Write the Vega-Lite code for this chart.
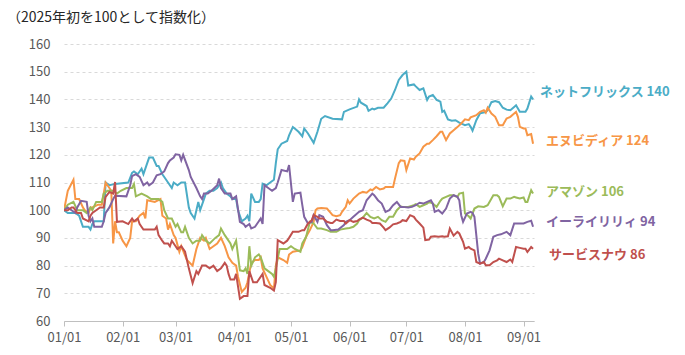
{
"$schema": "https://vega.github.io/schema/vega-lite/v6.json",
"width": 470, "height": 277,
"autosize": "none",
"padding": {"left": 64, "top": 44, "right": 151, "bottom": 34},
"background": "white",
"config": {"view": {"stroke": null}, "font": "Noto Sans CJK JP"},
"title": {"text": "（2025年初を100として指数化）", "anchor": "start", "frame": "group", "dx": -57, "offset": 13, "fontSize": 14, "fontWeight": "normal", "color": "#262626", "font": "Noto Sans CJK JP"},
"datasets": {
"series": [
{"s":"NFLX","d":"2025-01-01","v":100},{"s":"NFLX","d":"2025-01-03","v":99},{"s":"NFLX","d":"2025-01-07","v":99},{"s":"NFLX","d":"2025-01-09","v":98},{"s":"NFLX","d":"2025-01-11","v":94},{"s":"NFLX","d":"2025-01-14","v":94},{"s":"NFLX","d":"2025-01-15","v":93},{"s":"NFLX","d":"2025-01-16","v":95},{"s":"NFLX","d":"2025-01-17","v":96},{"s":"NFLX","d":"2025-01-22","v":96},{"s":"NFLX","d":"2025-01-23","v":110},{"s":"NFLX","d":"2025-01-25","v":109},{"s":"NFLX","d":"2025-01-28","v":109.5},{"s":"NFLX","d":"2025-02-04","v":110},{"s":"NFLX","d":"2025-02-06","v":113.5},{"s":"NFLX","d":"2025-02-07","v":114},{"s":"NFLX","d":"2025-02-09","v":113},{"s":"NFLX","d":"2025-02-11","v":115},{"s":"NFLX","d":"2025-02-12","v":113},{"s":"NFLX","d":"2025-02-14","v":117},{"s":"NFLX","d":"2025-02-15","v":119},{"s":"NFLX","d":"2025-02-17","v":119},{"s":"NFLX","d":"2025-02-19","v":116},{"s":"NFLX","d":"2025-02-20","v":116},{"s":"NFLX","d":"2025-02-22","v":113},{"s":"NFLX","d":"2025-02-23","v":112},{"s":"NFLX","d":"2025-02-25","v":110},{"s":"NFLX","d":"2025-02-27","v":108},{"s":"NFLX","d":"2025-02-28","v":110},{"s":"NFLX","d":"2025-03-02","v":109},{"s":"NFLX","d":"2025-03-04","v":110},{"s":"NFLX","d":"2025-03-06","v":110},{"s":"NFLX","d":"2025-03-08","v":101},{"s":"NFLX","d":"2025-03-09","v":99},{"s":"NFLX","d":"2025-03-11","v":97},{"s":"NFLX","d":"2025-03-12","v":100},{"s":"NFLX","d":"2025-03-13","v":103},{"s":"NFLX","d":"2025-03-14","v":100},{"s":"NFLX","d":"2025-03-16","v":104},{"s":"NFLX","d":"2025-03-17","v":106},{"s":"NFLX","d":"2025-03-19","v":107},{"s":"NFLX","d":"2025-03-21","v":107},{"s":"NFLX","d":"2025-03-23","v":108},{"s":"NFLX","d":"2025-03-25","v":110},{"s":"NFLX","d":"2025-03-26","v":108},{"s":"NFLX","d":"2025-03-28","v":106},{"s":"NFLX","d":"2025-03-30","v":105},{"s":"NFLX","d":"2025-03-31","v":104},{"s":"NFLX","d":"2025-04-02","v":104},{"s":"NFLX","d":"2025-04-03","v":100},{"s":"NFLX","d":"2025-04-05","v":96},{"s":"NFLX","d":"2025-04-07","v":97},{"s":"NFLX","d":"2025-04-08","v":98},{"s":"NFLX","d":"2025-04-09","v":96},{"s":"NFLX","d":"2025-04-10","v":106},{"s":"NFLX","d":"2025-04-12","v":103},{"s":"NFLX","d":"2025-04-14","v":103},{"s":"NFLX","d":"2025-04-15","v":104},{"s":"NFLX","d":"2025-04-16","v":109.6},{"s":"NFLX","d":"2025-04-18","v":109},{"s":"NFLX","d":"2025-04-20","v":110},{"s":"NFLX","d":"2025-04-22","v":111},{"s":"NFLX","d":"2025-04-23","v":117},{"s":"NFLX","d":"2025-04-24","v":122},{"s":"NFLX","d":"2025-04-26","v":124},{"s":"NFLX","d":"2025-04-29","v":125},{"s":"NFLX","d":"2025-04-30","v":127},{"s":"NFLX","d":"2025-05-02","v":130},{"s":"NFLX","d":"2025-05-03","v":129.5},{"s":"NFLX","d":"2025-05-05","v":128.3},{"s":"NFLX","d":"2025-05-07","v":126.7},{"s":"NFLX","d":"2025-05-08","v":129.5},{"s":"NFLX","d":"2025-05-10","v":127.7},{"s":"NFLX","d":"2025-05-13","v":124.3},{"s":"NFLX","d":"2025-05-15","v":128.3},{"s":"NFLX","d":"2025-05-17","v":133},{"s":"NFLX","d":"2025-05-19","v":134},{"s":"NFLX","d":"2025-05-23","v":133},{"s":"NFLX","d":"2025-05-28","v":132.8},{"s":"NFLX","d":"2025-05-29","v":135.5},{"s":"NFLX","d":"2025-06-01","v":136.4},{"s":"NFLX","d":"2025-06-05","v":137.4},{"s":"NFLX","d":"2025-06-06","v":140},{"s":"NFLX","d":"2025-06-07","v":138.8},{"s":"NFLX","d":"2025-06-10","v":137.6},{"s":"NFLX","d":"2025-06-11","v":135.9},{"s":"NFLX","d":"2025-06-13","v":136.7},{"s":"NFLX","d":"2025-06-14","v":136.4},{"s":"NFLX","d":"2025-06-16","v":137},{"s":"NFLX","d":"2025-06-19","v":137},{"s":"NFLX","d":"2025-06-21","v":138.6},{"s":"NFLX","d":"2025-06-23","v":140.3},{"s":"NFLX","d":"2025-06-25","v":143.4},{"s":"NFLX","d":"2025-06-27","v":147},{"s":"NFLX","d":"2025-06-29","v":148.8},{"s":"NFLX","d":"2025-07-01","v":150},{"s":"NFLX","d":"2025-07-02","v":145},{"s":"NFLX","d":"2025-07-05","v":145.4},{"s":"NFLX","d":"2025-07-06","v":144.7},{"s":"NFLX","d":"2025-07-08","v":143.4},{"s":"NFLX","d":"2025-07-10","v":144},{"s":"NFLX","d":"2025-07-12","v":139.8},{"s":"NFLX","d":"2025-07-13","v":141},{"s":"NFLX","d":"2025-07-15","v":141.6},{"s":"NFLX","d":"2025-07-17","v":139.8},{"s":"NFLX","d":"2025-07-19","v":139.2},{"s":"NFLX","d":"2025-07-20","v":135.5},{"s":"NFLX","d":"2025-07-21","v":135.9},{"s":"NFLX","d":"2025-07-23","v":132.8},{"s":"NFLX","d":"2025-07-25","v":132.3},{"s":"NFLX","d":"2025-07-27","v":132.5},{"s":"NFLX","d":"2025-07-29","v":131.6},{"s":"NFLX","d":"2025-08-01","v":130.7},{"s":"NFLX","d":"2025-08-03","v":131.1},{"s":"NFLX","d":"2025-08-04","v":130.1},{"s":"NFLX","d":"2025-08-05","v":128.7},{"s":"NFLX","d":"2025-08-07","v":132.5},{"s":"NFLX","d":"2025-08-09","v":135},{"s":"NFLX","d":"2025-08-12","v":135.4},{"s":"NFLX","d":"2025-08-13","v":136.1},{"s":"NFLX","d":"2025-08-15","v":139},{"s":"NFLX","d":"2025-08-17","v":139.4},{"s":"NFLX","d":"2025-08-19","v":139},{"s":"NFLX","d":"2025-08-21","v":137},{"s":"NFLX","d":"2025-08-23","v":136.3},{"s":"NFLX","d":"2025-08-25","v":136.1},{"s":"NFLX","d":"2025-08-27","v":137.3},{"s":"NFLX","d":"2025-08-28","v":137.9},{"s":"NFLX","d":"2025-08-30","v":135.5},{"s":"NFLX","d":"2025-09-02","v":135.5},{"s":"NFLX","d":"2025-09-03","v":136.7},{"s":"NFLX","d":"2025-09-05","v":141},{"s":"NFLX","d":"2025-09-06","v":140},
{"s":"NVDA","d":"2025-01-01","v":100},{"s":"NVDA","d":"2025-01-03","v":107},{"s":"NVDA","d":"2025-01-06","v":111},{"s":"NVDA","d":"2025-01-07","v":104},{"s":"NVDA","d":"2025-01-09","v":104},{"s":"NVDA","d":"2025-01-11","v":101},{"s":"NVDA","d":"2025-01-12","v":100},{"s":"NVDA","d":"2025-01-14","v":99},{"s":"NVDA","d":"2025-01-15","v":101},{"s":"NVDA","d":"2025-01-16","v":101},{"s":"NVDA","d":"2025-01-19","v":102},{"s":"NVDA","d":"2025-01-21","v":102},{"s":"NVDA","d":"2025-01-23","v":110},{"s":"NVDA","d":"2025-01-25","v":108},{"s":"NVDA","d":"2025-01-26","v":107},{"s":"NVDA","d":"2025-01-27","v":88},{"s":"NVDA","d":"2025-01-28","v":96},{"s":"NVDA","d":"2025-01-29","v":92},{"s":"NVDA","d":"2025-01-30","v":92},{"s":"NVDA","d":"2025-02-01","v":89},{"s":"NVDA","d":"2025-02-03","v":87},{"s":"NVDA","d":"2025-02-05","v":90},{"s":"NVDA","d":"2025-02-06","v":96},{"s":"NVDA","d":"2025-02-08","v":96},{"s":"NVDA","d":"2025-02-10","v":98},{"s":"NVDA","d":"2025-02-12","v":99},{"s":"NVDA","d":"2025-02-13","v":97},{"s":"NVDA","d":"2025-02-14","v":103.6},{"s":"NVDA","d":"2025-02-18","v":103},{"s":"NVDA","d":"2025-02-21","v":104},{"s":"NVDA","d":"2025-02-22","v":98},{"s":"NVDA","d":"2025-02-24","v":97},{"s":"NVDA","d":"2025-02-25","v":93},{"s":"NVDA","d":"2025-02-26","v":95},{"s":"NVDA","d":"2025-02-28","v":91},{"s":"NVDA","d":"2025-03-01","v":90},{"s":"NVDA","d":"2025-03-03","v":85},{"s":"NVDA","d":"2025-03-04","v":87},{"s":"NVDA","d":"2025-03-07","v":82},{"s":"NVDA","d":"2025-03-10","v":80},{"s":"NVDA","d":"2025-03-12","v":86},{"s":"NVDA","d":"2025-03-14","v":90},{"s":"NVDA","d":"2025-03-16","v":89},{"s":"NVDA","d":"2025-03-17","v":90},{"s":"NVDA","d":"2025-03-19","v":86},{"s":"NVDA","d":"2025-03-21","v":87},{"s":"NVDA","d":"2025-03-23","v":88},{"s":"NVDA","d":"2025-03-25","v":90},{"s":"NVDA","d":"2025-03-27","v":87},{"s":"NVDA","d":"2025-03-29","v":83},{"s":"NVDA","d":"2025-03-31","v":81},{"s":"NVDA","d":"2025-04-02","v":80},{"s":"NVDA","d":"2025-04-03","v":76},{"s":"NVDA","d":"2025-04-05","v":70.5},{"s":"NVDA","d":"2025-04-07","v":72},{"s":"NVDA","d":"2025-04-08","v":74},{"s":"NVDA","d":"2025-04-10","v":81},{"s":"NVDA","d":"2025-04-12","v":82},{"s":"NVDA","d":"2025-04-14","v":82},{"s":"NVDA","d":"2025-04-15","v":83},{"s":"NVDA","d":"2025-04-16","v":79},{"s":"NVDA","d":"2025-04-18","v":76},{"s":"NVDA","d":"2025-04-20","v":73},{"s":"NVDA","d":"2025-04-22","v":71.7},{"s":"NVDA","d":"2025-04-23","v":80},{"s":"NVDA","d":"2025-04-24","v":83},{"s":"NVDA","d":"2025-04-27","v":82},{"s":"NVDA","d":"2025-04-29","v":81},{"s":"NVDA","d":"2025-04-30","v":84},{"s":"NVDA","d":"2025-05-02","v":85},{"s":"NVDA","d":"2025-05-06","v":85.5},{"s":"NVDA","d":"2025-05-07","v":86.7},{"s":"NVDA","d":"2025-05-09","v":90.4},{"s":"NVDA","d":"2025-05-11","v":92.8},{"s":"NVDA","d":"2025-05-13","v":95.8},{"s":"NVDA","d":"2025-05-14","v":100},{"s":"NVDA","d":"2025-05-15","v":100.6},{"s":"NVDA","d":"2025-05-17","v":100.8},{"s":"NVDA","d":"2025-05-20","v":100.6},{"s":"NVDA","d":"2025-05-22","v":99},{"s":"NVDA","d":"2025-05-23","v":98.2},{"s":"NVDA","d":"2025-05-25","v":97.8},{"s":"NVDA","d":"2025-05-27","v":98.2},{"s":"NVDA","d":"2025-05-28","v":99.4},{"s":"NVDA","d":"2025-05-30","v":101.2},{"s":"NVDA","d":"2025-05-31","v":103.6},{"s":"NVDA","d":"2025-06-01","v":102.4},{"s":"NVDA","d":"2025-06-03","v":104.2},{"s":"NVDA","d":"2025-06-05","v":105.4},{"s":"NVDA","d":"2025-06-06","v":106},{"s":"NVDA","d":"2025-06-08","v":106.6},{"s":"NVDA","d":"2025-06-10","v":106.3},{"s":"NVDA","d":"2025-06-12","v":107.5},{"s":"NVDA","d":"2025-06-13","v":107.2},{"s":"NVDA","d":"2025-06-15","v":108.4},{"s":"NVDA","d":"2025-06-17","v":107.5},{"s":"NVDA","d":"2025-06-19","v":107.8},{"s":"NVDA","d":"2025-06-20","v":108.4},{"s":"NVDA","d":"2025-06-24","v":108.4},{"s":"NVDA","d":"2025-06-25","v":111.4},{"s":"NVDA","d":"2025-06-27","v":117},{"s":"NVDA","d":"2025-06-28","v":118},{"s":"NVDA","d":"2025-06-30","v":117.8},{"s":"NVDA","d":"2025-07-01","v":114.5},{"s":"NVDA","d":"2025-07-03","v":118.7},{"s":"NVDA","d":"2025-07-05","v":118.3},{"s":"NVDA","d":"2025-07-06","v":119.3},{"s":"NVDA","d":"2025-07-08","v":120.5},{"s":"NVDA","d":"2025-07-10","v":122.9},{"s":"NVDA","d":"2025-07-12","v":124},{"s":"NVDA","d":"2025-07-13","v":124},{"s":"NVDA","d":"2025-07-15","v":125.3},{"s":"NVDA","d":"2025-07-17","v":126.7},{"s":"NVDA","d":"2025-07-19","v":128.3},{"s":"NVDA","d":"2025-07-20","v":128.3},{"s":"NVDA","d":"2025-07-22","v":125.3},{"s":"NVDA","d":"2025-07-24","v":127.7},{"s":"NVDA","d":"2025-07-26","v":128.9},{"s":"NVDA","d":"2025-07-28","v":130},{"s":"NVDA","d":"2025-07-30","v":131.3},{"s":"NVDA","d":"2025-08-01","v":132.8},{"s":"NVDA","d":"2025-08-03","v":132.5},{"s":"NVDA","d":"2025-08-04","v":133.5},{"s":"NVDA","d":"2025-08-07","v":134.3},{"s":"NVDA","d":"2025-08-09","v":135.5},{"s":"NVDA","d":"2025-08-11","v":136.1},{"s":"NVDA","d":"2025-08-12","v":135.2},{"s":"NVDA","d":"2025-08-13","v":137},{"s":"NVDA","d":"2025-08-15","v":134.9},{"s":"NVDA","d":"2025-08-17","v":133.7},{"s":"NVDA","d":"2025-08-19","v":130.7},{"s":"NVDA","d":"2025-08-21","v":130.7},{"s":"NVDA","d":"2025-08-23","v":133.1},{"s":"NVDA","d":"2025-08-25","v":133.7},{"s":"NVDA","d":"2025-08-27","v":134.9},{"s":"NVDA","d":"2025-08-28","v":135.5},{"s":"NVDA","d":"2025-08-29","v":133.7},{"s":"NVDA","d":"2025-08-30","v":130.1},{"s":"NVDA","d":"2025-09-01","v":129.5},{"s":"NVDA","d":"2025-09-02","v":129.5},{"s":"NVDA","d":"2025-09-03","v":127.1},{"s":"NVDA","d":"2025-09-05","v":127.5},{"s":"NVDA","d":"2025-09-06","v":124},
{"s":"AMZN","d":"2025-01-01","v":100},{"s":"AMZN","d":"2025-01-03","v":102},{"s":"AMZN","d":"2025-01-06","v":103},{"s":"AMZN","d":"2025-01-08","v":100},{"s":"AMZN","d":"2025-01-11","v":100},{"s":"AMZN","d":"2025-01-13","v":99},{"s":"AMZN","d":"2025-01-15","v":101},{"s":"AMZN","d":"2025-01-16","v":100},{"s":"AMZN","d":"2025-01-18","v":103},{"s":"AMZN","d":"2025-01-21","v":103},{"s":"AMZN","d":"2025-01-22","v":106},{"s":"AMZN","d":"2025-01-24","v":107},{"s":"AMZN","d":"2025-01-27","v":107},{"s":"AMZN","d":"2025-01-29","v":106},{"s":"AMZN","d":"2025-01-31","v":107},{"s":"AMZN","d":"2025-02-03","v":108},{"s":"AMZN","d":"2025-02-06","v":108},{"s":"AMZN","d":"2025-02-07","v":109.4},{"s":"AMZN","d":"2025-02-08","v":105},{"s":"AMZN","d":"2025-02-11","v":106},{"s":"AMZN","d":"2025-02-14","v":105},{"s":"AMZN","d":"2025-02-16","v":104},{"s":"AMZN","d":"2025-02-20","v":104},{"s":"AMZN","d":"2025-02-22","v":103},{"s":"AMZN","d":"2025-02-23","v":100},{"s":"AMZN","d":"2025-02-25","v":97},{"s":"AMZN","d":"2025-02-27","v":97},{"s":"AMZN","d":"2025-03-01","v":94},{"s":"AMZN","d":"2025-03-02","v":95},{"s":"AMZN","d":"2025-03-04","v":92},{"s":"AMZN","d":"2025-03-05","v":92},{"s":"AMZN","d":"2025-03-06","v":94},{"s":"AMZN","d":"2025-03-08","v":90},{"s":"AMZN","d":"2025-03-10","v":88},{"s":"AMZN","d":"2025-03-12","v":89},{"s":"AMZN","d":"2025-03-14","v":89},{"s":"AMZN","d":"2025-03-15","v":91},{"s":"AMZN","d":"2025-03-17","v":89},{"s":"AMZN","d":"2025-03-19","v":88},{"s":"AMZN","d":"2025-03-22","v":90},{"s":"AMZN","d":"2025-03-24","v":91},{"s":"AMZN","d":"2025-03-25","v":93.4},{"s":"AMZN","d":"2025-03-27","v":91},{"s":"AMZN","d":"2025-03-30","v":88},{"s":"AMZN","d":"2025-03-31","v":86},{"s":"AMZN","d":"2025-04-02","v":89},{"s":"AMZN","d":"2025-04-04","v":78.3},{"s":"AMZN","d":"2025-04-06","v":78},{"s":"AMZN","d":"2025-04-07","v":79},{"s":"AMZN","d":"2025-04-08","v":77},{"s":"AMZN","d":"2025-04-09","v":87},{"s":"AMZN","d":"2025-04-10","v":80},{"s":"AMZN","d":"2025-04-12","v":83},{"s":"AMZN","d":"2025-04-14","v":84},{"s":"AMZN","d":"2025-04-15","v":83},{"s":"AMZN","d":"2025-04-17","v":79},{"s":"AMZN","d":"2025-04-19","v":78},{"s":"AMZN","d":"2025-04-21","v":77},{"s":"AMZN","d":"2025-04-22","v":76},{"s":"AMZN","d":"2025-04-23","v":79},{"s":"AMZN","d":"2025-04-25","v":86},{"s":"AMZN","d":"2025-04-28","v":86},{"s":"AMZN","d":"2025-04-29","v":86},{"s":"AMZN","d":"2025-05-01","v":87},{"s":"AMZN","d":"2025-05-03","v":86},{"s":"AMZN","d":"2025-05-06","v":85},{"s":"AMZN","d":"2025-05-07","v":88},{"s":"AMZN","d":"2025-05-09","v":90.4},{"s":"AMZN","d":"2025-05-11","v":95.8},{"s":"AMZN","d":"2025-05-13","v":95.2},{"s":"AMZN","d":"2025-05-15","v":93.4},{"s":"AMZN","d":"2025-05-17","v":93.4},{"s":"AMZN","d":"2025-05-20","v":92.8},{"s":"AMZN","d":"2025-05-22","v":92.2},{"s":"AMZN","d":"2025-05-25","v":92.2},{"s":"AMZN","d":"2025-05-27","v":93},{"s":"AMZN","d":"2025-05-30","v":93.4},{"s":"AMZN","d":"2025-06-01","v":93.6},{"s":"AMZN","d":"2025-06-03","v":94},{"s":"AMZN","d":"2025-06-05","v":95.2},{"s":"AMZN","d":"2025-06-06","v":96.4},{"s":"AMZN","d":"2025-06-08","v":97.3},{"s":"AMZN","d":"2025-06-10","v":99},{"s":"AMZN","d":"2025-06-12","v":97.6},{"s":"AMZN","d":"2025-06-14","v":97},{"s":"AMZN","d":"2025-06-16","v":97.6},{"s":"AMZN","d":"2025-06-18","v":96.4},{"s":"AMZN","d":"2025-06-20","v":95.8},{"s":"AMZN","d":"2025-06-22","v":97.6},{"s":"AMZN","d":"2025-06-24","v":97.6},{"s":"AMZN","d":"2025-06-26","v":100},{"s":"AMZN","d":"2025-06-28","v":101.4},{"s":"AMZN","d":"2025-06-29","v":101.2},{"s":"AMZN","d":"2025-07-02","v":101.2},{"s":"AMZN","d":"2025-07-05","v":101.8},{"s":"AMZN","d":"2025-07-06","v":102.2},{"s":"AMZN","d":"2025-07-08","v":101.2},{"s":"AMZN","d":"2025-07-10","v":101.8},{"s":"AMZN","d":"2025-07-12","v":102.4},{"s":"AMZN","d":"2025-07-13","v":103},{"s":"AMZN","d":"2025-07-15","v":102.4},{"s":"AMZN","d":"2025-07-17","v":101.2},{"s":"AMZN","d":"2025-07-19","v":103.4},{"s":"AMZN","d":"2025-07-20","v":104.2},{"s":"AMZN","d":"2025-07-22","v":104.8},{"s":"AMZN","d":"2025-07-24","v":105.4},{"s":"AMZN","d":"2025-07-26","v":105.4},{"s":"AMZN","d":"2025-07-28","v":104.8},{"s":"AMZN","d":"2025-07-29","v":106},{"s":"AMZN","d":"2025-07-31","v":106.3},{"s":"AMZN","d":"2025-08-01","v":98.8},{"s":"AMZN","d":"2025-08-03","v":97.8},{"s":"AMZN","d":"2025-08-04","v":97},{"s":"AMZN","d":"2025-08-06","v":100.6},{"s":"AMZN","d":"2025-08-08","v":101.4},{"s":"AMZN","d":"2025-08-11","v":101.2},{"s":"AMZN","d":"2025-08-13","v":101.8},{"s":"AMZN","d":"2025-08-16","v":105.4},{"s":"AMZN","d":"2025-08-18","v":105.4},{"s":"AMZN","d":"2025-08-19","v":104.8},{"s":"AMZN","d":"2025-08-21","v":101.4},{"s":"AMZN","d":"2025-08-23","v":104.2},{"s":"AMZN","d":"2025-08-25","v":104.2},{"s":"AMZN","d":"2025-08-27","v":104.8},{"s":"AMZN","d":"2025-08-28","v":104.6},{"s":"AMZN","d":"2025-08-30","v":104.2},{"s":"AMZN","d":"2025-09-01","v":104.6},{"s":"AMZN","d":"2025-09-02","v":103},{"s":"AMZN","d":"2025-09-03","v":103},{"s":"AMZN","d":"2025-09-05","v":107.2},{"s":"AMZN","d":"2025-09-06","v":106},
{"s":"LLY","d":"2025-01-01","v":100},{"s":"LLY","d":"2025-01-03","v":101},{"s":"LLY","d":"2025-01-05","v":100},{"s":"LLY","d":"2025-01-07","v":99},{"s":"LLY","d":"2025-01-08","v":101},{"s":"LLY","d":"2025-01-10","v":103.4},{"s":"LLY","d":"2025-01-13","v":103},{"s":"LLY","d":"2025-01-14","v":98},{"s":"LLY","d":"2025-01-15","v":96},{"s":"LLY","d":"2025-01-16","v":97},{"s":"LLY","d":"2025-01-17","v":94},{"s":"LLY","d":"2025-01-21","v":94},{"s":"LLY","d":"2025-01-22","v":96},{"s":"LLY","d":"2025-01-23","v":99},{"s":"LLY","d":"2025-01-25","v":101},{"s":"LLY","d":"2025-01-27","v":104},{"s":"LLY","d":"2025-01-28","v":105.2},{"s":"LLY","d":"2025-02-03","v":105},{"s":"LLY","d":"2025-02-05","v":109},{"s":"LLY","d":"2025-02-06","v":112.3},{"s":"LLY","d":"2025-02-08","v":113},{"s":"LLY","d":"2025-02-10","v":112},{"s":"LLY","d":"2025-02-12","v":109},{"s":"LLY","d":"2025-02-14","v":110},{"s":"LLY","d":"2025-02-15","v":109},{"s":"LLY","d":"2025-02-17","v":110},{"s":"LLY","d":"2025-02-19","v":112.6},{"s":"LLY","d":"2025-02-21","v":113},{"s":"LLY","d":"2025-02-23","v":114},{"s":"LLY","d":"2025-02-25","v":117},{"s":"LLY","d":"2025-02-26","v":118},{"s":"LLY","d":"2025-02-28","v":119},{"s":"LLY","d":"2025-03-01","v":120.2},{"s":"LLY","d":"2025-03-03","v":120},{"s":"LLY","d":"2025-03-04","v":118},{"s":"LLY","d":"2025-03-05","v":120},{"s":"LLY","d":"2025-03-08","v":114.5},{"s":"LLY","d":"2025-03-09","v":112},{"s":"LLY","d":"2025-03-12","v":108},{"s":"LLY","d":"2025-03-14","v":105},{"s":"LLY","d":"2025-03-15","v":104},{"s":"LLY","d":"2025-03-16","v":106},{"s":"LLY","d":"2025-03-18","v":106},{"s":"LLY","d":"2025-03-20","v":107},{"s":"LLY","d":"2025-03-23","v":109},{"s":"LLY","d":"2025-03-24","v":111.4},{"s":"LLY","d":"2025-03-25","v":108},{"s":"LLY","d":"2025-03-27","v":106},{"s":"LLY","d":"2025-03-30","v":106},{"s":"LLY","d":"2025-03-31","v":104},{"s":"LLY","d":"2025-04-02","v":105},{"s":"LLY","d":"2025-04-04","v":95.8},{"s":"LLY","d":"2025-04-06","v":95},{"s":"LLY","d":"2025-04-07","v":94},{"s":"LLY","d":"2025-04-09","v":95},{"s":"LLY","d":"2025-04-10","v":93.4},{"s":"LLY","d":"2025-04-12","v":94},{"s":"LLY","d":"2025-04-14","v":96},{"s":"LLY","d":"2025-04-15","v":97},{"s":"LLY","d":"2025-04-16","v":95},{"s":"LLY","d":"2025-04-17","v":109},{"s":"LLY","d":"2025-04-19","v":108},{"s":"LLY","d":"2025-04-21","v":107},{"s":"LLY","d":"2025-04-23","v":108},{"s":"LLY","d":"2025-04-24","v":110},{"s":"LLY","d":"2025-04-26","v":114.5},{"s":"LLY","d":"2025-04-29","v":114},{"s":"LLY","d":"2025-04-30","v":116.3},{"s":"LLY","d":"2025-05-02","v":103},{"s":"LLY","d":"2025-05-03","v":106},{"s":"LLY","d":"2025-05-06","v":106.3},{"s":"LLY","d":"2025-05-07","v":101.8},{"s":"LLY","d":"2025-05-08","v":97.6},{"s":"LLY","d":"2025-05-10","v":95.2},{"s":"LLY","d":"2025-05-12","v":95.8},{"s":"LLY","d":"2025-05-13","v":98.2},{"s":"LLY","d":"2025-05-15","v":95.8},{"s":"LLY","d":"2025-05-16","v":98.2},{"s":"LLY","d":"2025-05-18","v":97.6},{"s":"LLY","d":"2025-05-20","v":94.6},{"s":"LLY","d":"2025-05-22","v":92.8},{"s":"LLY","d":"2025-05-23","v":92.8},{"s":"LLY","d":"2025-05-26","v":93},{"s":"LLY","d":"2025-05-29","v":94.6},{"s":"LLY","d":"2025-05-30","v":95.8},{"s":"LLY","d":"2025-06-01","v":96.4},{"s":"LLY","d":"2025-06-03","v":97.6},{"s":"LLY","d":"2025-06-06","v":99.4},{"s":"LLY","d":"2025-06-08","v":100},{"s":"LLY","d":"2025-06-10","v":103.6},{"s":"LLY","d":"2025-06-13","v":106},{"s":"LLY","d":"2025-06-14","v":105.4},{"s":"LLY","d":"2025-06-16","v":103.6},{"s":"LLY","d":"2025-06-18","v":102.4},{"s":"LLY","d":"2025-06-20","v":99.4},{"s":"LLY","d":"2025-06-22","v":100},{"s":"LLY","d":"2025-06-24","v":101.8},{"s":"LLY","d":"2025-06-26","v":103},{"s":"LLY","d":"2025-06-28","v":101.2},{"s":"LLY","d":"2025-06-29","v":101.2},{"s":"LLY","d":"2025-07-02","v":101},{"s":"LLY","d":"2025-07-04","v":101.2},{"s":"LLY","d":"2025-07-06","v":101.8},{"s":"LLY","d":"2025-07-08","v":102.7},{"s":"LLY","d":"2025-07-10","v":102.4},{"s":"LLY","d":"2025-07-12","v":103},{"s":"LLY","d":"2025-07-14","v":103.6},{"s":"LLY","d":"2025-07-15","v":102.4},{"s":"LLY","d":"2025-07-16","v":99.4},{"s":"LLY","d":"2025-07-18","v":100},{"s":"LLY","d":"2025-07-20","v":98.8},{"s":"LLY","d":"2025-07-22","v":100.6},{"s":"LLY","d":"2025-07-24","v":104.2},{"s":"LLY","d":"2025-07-26","v":105.4},{"s":"LLY","d":"2025-07-28","v":104.8},{"s":"LLY","d":"2025-07-29","v":103.6},{"s":"LLY","d":"2025-07-30","v":98.2},{"s":"LLY","d":"2025-07-31","v":95.8},{"s":"LLY","d":"2025-08-02","v":98.8},{"s":"LLY","d":"2025-08-04","v":99.4},{"s":"LLY","d":"2025-08-05","v":99},{"s":"LLY","d":"2025-08-06","v":97.6},{"s":"LLY","d":"2025-08-08","v":84.3},{"s":"LLY","d":"2025-08-09","v":80.7},{"s":"LLY","d":"2025-08-11","v":81.3},{"s":"LLY","d":"2025-08-12","v":82.5},{"s":"LLY","d":"2025-08-14","v":85.5},{"s":"LLY","d":"2025-08-16","v":90.4},{"s":"LLY","d":"2025-08-18","v":91},{"s":"LLY","d":"2025-08-20","v":91.3},{"s":"LLY","d":"2025-08-23","v":92.2},{"s":"LLY","d":"2025-08-25","v":91},{"s":"LLY","d":"2025-08-27","v":95.2},{"s":"LLY","d":"2025-08-29","v":95.2},{"s":"LLY","d":"2025-09-01","v":95.2},{"s":"LLY","d":"2025-09-03","v":95.8},{"s":"LLY","d":"2025-09-05","v":96.2},{"s":"LLY","d":"2025-09-06","v":94},
{"s":"NOW","d":"2025-01-01","v":100},{"s":"NOW","d":"2025-01-03","v":100},{"s":"NOW","d":"2025-01-05","v":101},{"s":"NOW","d":"2025-01-06","v":101},{"s":"NOW","d":"2025-01-08","v":99},{"s":"NOW","d":"2025-01-10","v":99},{"s":"NOW","d":"2025-01-11","v":97},{"s":"NOW","d":"2025-01-14","v":96},{"s":"NOW","d":"2025-01-15","v":98},{"s":"NOW","d":"2025-01-16","v":99},{"s":"NOW","d":"2025-01-18","v":100},{"s":"NOW","d":"2025-01-20","v":101},{"s":"NOW","d":"2025-01-22","v":101},{"s":"NOW","d":"2025-01-23","v":104.8},{"s":"NOW","d":"2025-01-25","v":106.6},{"s":"NOW","d":"2025-01-27","v":106},{"s":"NOW","d":"2025-01-28","v":110.2},{"s":"NOW","d":"2025-01-29","v":95.8},{"s":"NOW","d":"2025-02-01","v":96},{"s":"NOW","d":"2025-02-04","v":95},{"s":"NOW","d":"2025-02-06","v":97},{"s":"NOW","d":"2025-02-07","v":96},{"s":"NOW","d":"2025-02-09","v":97},{"s":"NOW","d":"2025-02-10","v":95},{"s":"NOW","d":"2025-02-12","v":93},{"s":"NOW","d":"2025-02-14","v":93},{"s":"NOW","d":"2025-02-18","v":93},{"s":"NOW","d":"2025-02-19","v":94},{"s":"NOW","d":"2025-02-20","v":91},{"s":"NOW","d":"2025-02-22","v":88.9},{"s":"NOW","d":"2025-02-23","v":88},{"s":"NOW","d":"2025-02-25","v":88},{"s":"NOW","d":"2025-02-26","v":87},{"s":"NOW","d":"2025-02-27","v":89},{"s":"NOW","d":"2025-03-01","v":87},{"s":"NOW","d":"2025-03-02","v":86},{"s":"NOW","d":"2025-03-04","v":87},{"s":"NOW","d":"2025-03-06","v":85},{"s":"NOW","d":"2025-03-07","v":82},{"s":"NOW","d":"2025-03-08","v":79},{"s":"NOW","d":"2025-03-10","v":73.7},{"s":"NOW","d":"2025-03-12","v":78},{"s":"NOW","d":"2025-03-13","v":77},{"s":"NOW","d":"2025-03-15","v":80},{"s":"NOW","d":"2025-03-17","v":80},{"s":"NOW","d":"2025-03-19","v":79},{"s":"NOW","d":"2025-03-21","v":80},{"s":"NOW","d":"2025-03-23","v":78},{"s":"NOW","d":"2025-03-25","v":79},{"s":"NOW","d":"2025-03-27","v":81},{"s":"NOW","d":"2025-03-28","v":80},{"s":"NOW","d":"2025-03-29","v":77},{"s":"NOW","d":"2025-03-30","v":75},{"s":"NOW","d":"2025-04-01","v":75},{"s":"NOW","d":"2025-04-02","v":77},{"s":"NOW","d":"2025-04-04","v":68},{"s":"NOW","d":"2025-04-06","v":69},{"s":"NOW","d":"2025-04-08","v":69},{"s":"NOW","d":"2025-04-09","v":78},{"s":"NOW","d":"2025-04-11","v":74},{"s":"NOW","d":"2025-04-13","v":74},{"s":"NOW","d":"2025-04-14","v":75},{"s":"NOW","d":"2025-04-16","v":77},{"s":"NOW","d":"2025-04-17","v":73},{"s":"NOW","d":"2025-04-20","v":72},{"s":"NOW","d":"2025-04-22","v":71},{"s":"NOW","d":"2025-04-23","v":74},{"s":"NOW","d":"2025-04-24","v":89.2},{"s":"NOW","d":"2025-04-27","v":88},{"s":"NOW","d":"2025-04-29","v":89},{"s":"NOW","d":"2025-04-30","v":90},{"s":"NOW","d":"2025-05-02","v":92.2},{"s":"NOW","d":"2025-05-05","v":92.2},{"s":"NOW","d":"2025-05-07","v":92.8},{"s":"NOW","d":"2025-05-08","v":92.8},{"s":"NOW","d":"2025-05-10","v":95.2},{"s":"NOW","d":"2025-05-12","v":96.4},{"s":"NOW","d":"2025-05-13","v":98.2},{"s":"NOW","d":"2025-05-15","v":97.6},{"s":"NOW","d":"2025-05-16","v":97},{"s":"NOW","d":"2025-05-18","v":97},{"s":"NOW","d":"2025-05-20","v":95.8},{"s":"NOW","d":"2025-05-22","v":95.4},{"s":"NOW","d":"2025-05-23","v":95.4},{"s":"NOW","d":"2025-05-25","v":96.6},{"s":"NOW","d":"2025-05-27","v":96.1},{"s":"NOW","d":"2025-05-29","v":96.1},{"s":"NOW","d":"2025-05-30","v":95.2},{"s":"NOW","d":"2025-06-01","v":96.4},{"s":"NOW","d":"2025-06-03","v":95.8},{"s":"NOW","d":"2025-06-05","v":96.1},{"s":"NOW","d":"2025-06-06","v":96.6},{"s":"NOW","d":"2025-06-08","v":97.3},{"s":"NOW","d":"2025-06-10","v":96.6},{"s":"NOW","d":"2025-06-12","v":96.1},{"s":"NOW","d":"2025-06-13","v":95.4},{"s":"NOW","d":"2025-06-15","v":95.4},{"s":"NOW","d":"2025-06-17","v":95.2},{"s":"NOW","d":"2025-06-19","v":93.7},{"s":"NOW","d":"2025-06-20","v":92.8},{"s":"NOW","d":"2025-06-22","v":93.7},{"s":"NOW","d":"2025-06-24","v":94.9},{"s":"NOW","d":"2025-06-26","v":95.2},{"s":"NOW","d":"2025-06-28","v":95.8},{"s":"NOW","d":"2025-06-29","v":96.4},{"s":"NOW","d":"2025-07-01","v":96.1},{"s":"NOW","d":"2025-07-03","v":98.2},{"s":"NOW","d":"2025-07-05","v":97.6},{"s":"NOW","d":"2025-07-06","v":96.6},{"s":"NOW","d":"2025-07-08","v":95.2},{"s":"NOW","d":"2025-07-10","v":93.7},{"s":"NOW","d":"2025-07-11","v":89.2},{"s":"NOW","d":"2025-07-13","v":89.4},{"s":"NOW","d":"2025-07-14","v":90.4},{"s":"NOW","d":"2025-07-16","v":90.6},{"s":"NOW","d":"2025-07-18","v":90.4},{"s":"NOW","d":"2025-07-20","v":90.6},{"s":"NOW","d":"2025-07-21","v":90.4},{"s":"NOW","d":"2025-07-23","v":90.6},{"s":"NOW","d":"2025-07-24","v":93.4},{"s":"NOW","d":"2025-07-26","v":90.8},{"s":"NOW","d":"2025-07-28","v":92.2},{"s":"NOW","d":"2025-07-29","v":91.6},{"s":"NOW","d":"2025-07-31","v":88.6},{"s":"NOW","d":"2025-08-01","v":86.1},{"s":"NOW","d":"2025-08-03","v":86.7},{"s":"NOW","d":"2025-08-04","v":86.1},{"s":"NOW","d":"2025-08-06","v":85.5},{"s":"NOW","d":"2025-08-07","v":81.3},{"s":"NOW","d":"2025-08-09","v":80.7},{"s":"NOW","d":"2025-08-11","v":81.3},{"s":"NOW","d":"2025-08-12","v":80.1},{"s":"NOW","d":"2025-08-14","v":80.1},{"s":"NOW","d":"2025-08-16","v":81.3},{"s":"NOW","d":"2025-08-18","v":81.9},{"s":"NOW","d":"2025-08-19","v":82.5},{"s":"NOW","d":"2025-08-21","v":81.9},{"s":"NOW","d":"2025-08-23","v":81.3},{"s":"NOW","d":"2025-08-25","v":82.2},{"s":"NOW","d":"2025-08-26","v":81.3},{"s":"NOW","d":"2025-08-28","v":86.7},{"s":"NOW","d":"2025-08-30","v":86.4},{"s":"NOW","d":"2025-09-01","v":86.1},{"s":"NOW","d":"2025-09-02","v":86.1},{"s":"NOW","d":"2025-09-03","v":84.9},{"s":"NOW","d":"2025-09-05","v":86.7},{"s":"NOW","d":"2025-09-06","v":86.1}
],
"labels": [
{"s":"NFLX","d":"2025-09-06","v":140,"t":"ネットフリックス  140"},
{"s":"NVDA","d":"2025-09-06","v":124,"t":"エヌビディア  124"},
{"s":"AMZN","d":"2025-09-06","v":106,"t":"アマゾン 106"},
{"s":"LLY","d":"2025-09-06","v":94,"t":"イーライリリィ 94"},
{"s":"NOW","d":"2025-09-06","v":86,"t":"サービスナウ 86"}
]
},
"encoding": {
 "x": {"field": "d", "type": "temporal",
  "scale": {"type": "utc", "domain": [{"year": 2025, "month": 1, "date": 1, "utc": true}, {"year": 2025, "month": 9, "date": 6, "hours": 12, "utc": true}]},
  "axis": {"title": null, "grid": false, "tickCount": {"interval": "month", "step": 1},
   "labelExpr": "utcFormat(datum.value, '%m/%d')", "labelAlign": "center", "labelFlush": false,
   "domainColor": "#BFBFBF", "tickColor": "#BFBFBF", "tickSize": 5, "labelColor": "#595959", "labelFontSize": 13, "labelPadding": 5, "labelFont": "Noto Sans CJK JP", "labelOverlap": false}},
 "y": {"field": "v", "type": "quantitative",
  "scale": {"domain": [60, 160], "nice": false, "zero": false},
  "axis": {"title": null, "values": [60,70,80,90,100,110,120,130,140,150,160], "domain": false, "ticks": false, "grid": true, "gridColor": "#D9D9D9", "gridDash": [3, 3], "labelColor": "#595959", "labelFontSize": 13, "labelPadding": 14, "labelFont": "Noto Sans CJK JP", "labelOverlap": false}}
},
"layer": [
{"data": {"name": "series"},
 "mark": {"type": "line", "strokeWidth": 2, "clip": true},
 "encoding": {
  "color": {"field": "s", "type": "nominal", "legend": null,
   "scale": {"domain": ["NFLX", "NVDA", "AMZN", "LLY", "NOW"], "range": ["#4BACC6", "#F79646", "#9BBB59", "#8064A2", "#C0504D"]}}
 }},
{"data": {"name": "labels"}, "transform": [{"filter": "datum.s === 'NFLX'"}],
 "mark": {"type": "text", "align": "left", "baseline": "middle", "dx": 7, "dy": -7, "fontSize": 13, "fontWeight": "bold", "color": "#4BACC6", "font": "Noto Sans CJK JP"},
 "encoding": {"text": {"field": "t"}}},
{"data": {"name": "labels"}, "transform": [{"filter": "datum.s === 'NVDA'"}],
 "mark": {"type": "text", "align": "left", "baseline": "middle", "dx": 13, "dy": -3, "fontSize": 13, "fontWeight": "bold", "color": "#F79646", "font": "Noto Sans CJK JP"},
 "encoding": {"text": {"field": "t"}}},
{"data": {"name": "labels"}, "transform": [{"filter": "datum.s === 'AMZN'"}],
 "mark": {"type": "text", "align": "left", "baseline": "middle", "dx": 13, "dy": -2, "fontSize": 13, "fontWeight": "bold", "color": "#9BBB59", "font": "Noto Sans CJK JP"},
 "encoding": {"text": {"field": "t"}}},
{"data": {"name": "labels"}, "transform": [{"filter": "datum.s === 'LLY'"}],
 "mark": {"type": "text", "align": "left", "baseline": "middle", "dx": 13, "dy": -5, "fontSize": 13, "fontWeight": "bold", "color": "#8064A2", "font": "Noto Sans CJK JP"},
 "encoding": {"text": {"field": "t"}}},
{"data": {"name": "labels"}, "transform": [{"filter": "datum.s === 'NOW'"}],
 "mark": {"type": "text", "align": "left", "baseline": "middle", "dx": 16, "dy": 6, "fontSize": 13, "fontWeight": "bold", "color": "#C0504D", "font": "Noto Sans CJK JP"},
 "encoding": {"text": {"field": "t"}}}
]
}
